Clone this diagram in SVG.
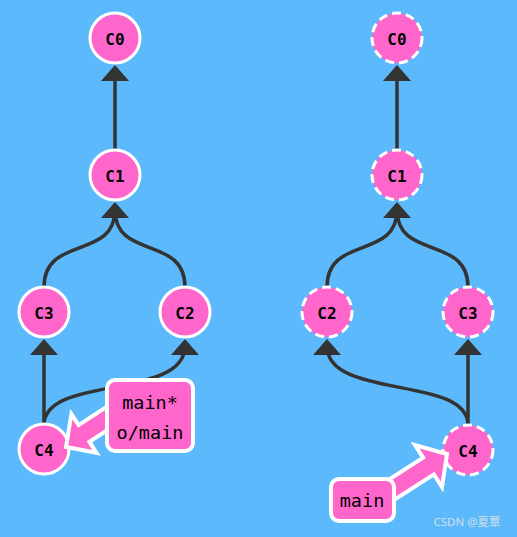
<svg xmlns="http://www.w3.org/2000/svg" width="517" height="537" viewBox="0 0 517 537">
<style>
.node circle{fill:#ff66cc;stroke:#fff;stroke-width:3}
.dash circle{stroke-dasharray:9 5}
.node text{font-family:"DejaVu Sans Mono","Liberation Mono",monospace;font-weight:bold;font-size:16px;fill:#000;text-anchor:middle;dominant-baseline:central}
.edge{fill:none;stroke:#333;stroke-width:3.5}
.ah{fill:#333}
.tag rect,.tag polygon{fill:#ff66cc;stroke:#fff;stroke-width:4;stroke-linejoin:miter}
.tag text{font-family:"DejaVu Sans Mono","Liberation Mono",monospace;font-size:18.5px;fill:#000;text-anchor:middle;dominant-baseline:central}
</style>
<defs>
<path id="ah" d="M0,0 L14,16 L-14,16 Z"/>
</defs>
<rect width="517" height="537" fill="#5cb9fb"/>
<g id="connectors">
<path class="edge" d="M115,150 L115,78"/>
<path class="edge" d="M44,287 C44,235 115,260 115,210"/>
<path class="edge" d="M185,287 C185,235 115,260 115,210"/>
<path class="edge" d="M44,425 L44,350"/>
<path class="edge" d="M44,425 C44,375 185,400 185,346"/>
<path class="edge" d="M397,150 L397,78"/>
<path class="edge" d="M327,287 C327,235 397,260 397,210"/>
<path class="edge" d="M468,287 C468,235 397,260 397,210"/>
<path class="edge" d="M468,425 L468,350"/>
<path class="edge" d="M468,425 C468,375 327,400 327,346"/>
<use href="#ah" class="ah" x="115" y="65"/>
<use href="#ah" class="ah" x="115" y="202"/>
<use href="#ah" class="ah" x="44" y="339"/>
<use href="#ah" class="ah" x="185" y="339"/>
<use href="#ah" class="ah" x="397" y="65"/>
<use href="#ah" class="ah" x="397" y="202"/>
<use href="#ah" class="ah" x="327" y="339"/>
<use href="#ah" class="ah" x="468" y="339"/>
</g>
<g id="L_C0" class="node"><circle cx="115" cy="38" r="25"/><text x="115" y="39">C0</text></g>
<g id="L_C1" class="node"><circle cx="115" cy="175" r="25"/><text x="115" y="176">C1</text></g>
<g id="L_C3" class="node"><circle cx="44" cy="312" r="25"/><text x="44" y="313">C3</text></g>
<g id="L_C2" class="node"><circle cx="185" cy="312" r="25"/><text x="185" y="313">C2</text></g>
<g id="L_C4" class="node"><circle cx="44" cy="449" r="25"/><text x="44" y="450">C4</text></g>
<g id="R_C0" class="node dash"><circle cx="397" cy="38" r="25"/><text x="397" y="39">C0</text></g>
<g id="R_C1" class="node dash"><circle cx="397" cy="175" r="25"/><text x="397" y="176">C1</text></g>
<g id="R_C2" class="node dash"><circle cx="327" cy="312" r="25"/><text x="327" y="313">C2</text></g>
<g id="R_C3" class="node dash"><circle cx="468" cy="312" r="25"/><text x="468" y="313">C3</text></g>
<g id="R_C4" class="node dash"><circle cx="468" cy="450" r="25"/><text x="468" y="451">C4</text></g>
<g id="L_tag" class="tag">
<polygon points="66,447 71.4,414.2 78.6,425.1 112.1,403.3 122.9,420 89.4,441.8 96.6,452.8"/>
<rect x="107" y="380" width="86" height="71" rx="8"/>
<text x="150" y="402">main*</text>
<text x="150" y="432">o/main</text>
</g>
<g id="R_tag" class="tag">
<polygon points="447,454 442,487 433.9,474.4 383.4,506.7 372.6,490 423.1,457.6 415,445"/>
<rect x="331" y="479" width="63" height="42" rx="8"/>
<text x="362" y="500">main</text>
</g>
<text x="467" y="521" font-family="'Noto Sans','Noto Sans CJK SC',sans-serif" font-size="11.5" fill="#e6e6e6" fill-opacity="0.85" text-anchor="middle" dominant-baseline="central">CSDN @夏覃</text>
</svg>
